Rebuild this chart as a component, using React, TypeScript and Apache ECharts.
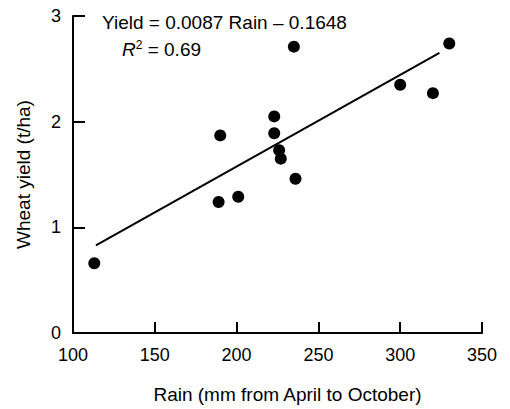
import React, { useEffect, useRef } from "react";
import * as echarts from "echarts";

const rain = [113, 190, 189, 201, 223, 223, 226, 227, 236, 235, 300, 320, 330];
const wheatYield = [0.66, 1.87, 1.24, 1.29, 2.05, 1.89, 1.73, 1.65, 1.46, 2.71, 2.35, 2.27, 2.74];
const fitLine = [
  [114, 0.83],
  [324, 2.65],
];
const equationText = "Yield = 0.0087 Rain \u2013 0.1648";
const r2Text = "0.69";

const FONT = "'Liberation Sans', Arial, Helvetica, sans-serif";

export default function App() {
  const ref = useRef<HTMLDivElement>(null);
  useEffect(() => {
    document.body.style.margin = "0";
    if (!ref.current) return;
    const chart = echarts.init(ref.current, null, { renderer: "svg" });
    const points = rain.map((r, i) => [r, wheatYield[i]]);
    chart.setOption({
      animation: false,
      backgroundColor: "#ffffff",
      textStyle: { fontFamily: FONT },
      grid: { left: 73, right: 28, top: 16, bottom: 72 },
      xAxis: {
        type: "value",
        min: 100,
        max: 350,
        interval: 50,
        name: "Rain (mm from April to October)",
        nameLocation: "middle",
        nameGap: 52,
        nameTextStyle: { color: "#000", fontSize: 19, fontFamily: FONT, padding: [0, 0, 0, 20] },
        axisLine: { show: true, lineStyle: { color: "#000", width: 2 } },
        axisTick: { show: true, inside: true, length: 11, lineStyle: { color: "#000", width: 2 } },
        axisLabel: { color: "#000", fontSize: 18, margin: 13, fontFamily: FONT },
        splitLine: { show: false },
      },
      yAxis: {
        type: "value",
        min: 0,
        max: 3,
        interval: 1,
        name: "Wheat yield (t/ha)",
        nameLocation: "middle",
        nameGap: 40,
        nameTextStyle: { color: "#000", fontSize: 19, fontFamily: FONT },
        axisLine: { show: true, lineStyle: { color: "#000", width: 2 } },
        axisTick: { show: true, inside: true, length: 12, lineStyle: { color: "#000", width: 2 } },
        axisLabel: { color: "#000", fontSize: 18, margin: 12, fontFamily: FONT },
        splitLine: { show: false },
      },
      graphic: [
        {
          type: "text",
          left: 102,
          top: 13,
          style: { text: equationText, fill: "#000", font: `19px ${FONT}` },
        },
        {
          type: "text",
          left: 122,
          top: 39,
          style: {
            text: `{i|R}{s|2}{n| = ${r2Text}}`,
            fill: "#000",
            rich: {
              i: { fontStyle: "italic", fontSize: 19, fontFamily: FONT, fill: "#000", verticalAlign: "bottom" },
              s: { fontSize: 12, fontFamily: FONT, fill: "#000", verticalAlign: "top", padding: [0, 0, 8, 0] },
              n: { fontSize: 19, fontFamily: FONT, fill: "#000", verticalAlign: "bottom" },
            },
          },
        },
      ],
      series: [
        {
          type: "line",
          data: fitLine,
          symbol: "none",
          lineStyle: { color: "#000", width: 2 },
          silent: true,
        },
        {
          type: "scatter",
          data: points,
          symbol: "circle",
          symbolSize: 12,
          itemStyle: { color: "#000", opacity: 1 },
        },
      ],
    });
    return () => chart.dispose();
  }, []);
  return <div ref={ref} style={{ width: 510, height: 409 }} />;
}
